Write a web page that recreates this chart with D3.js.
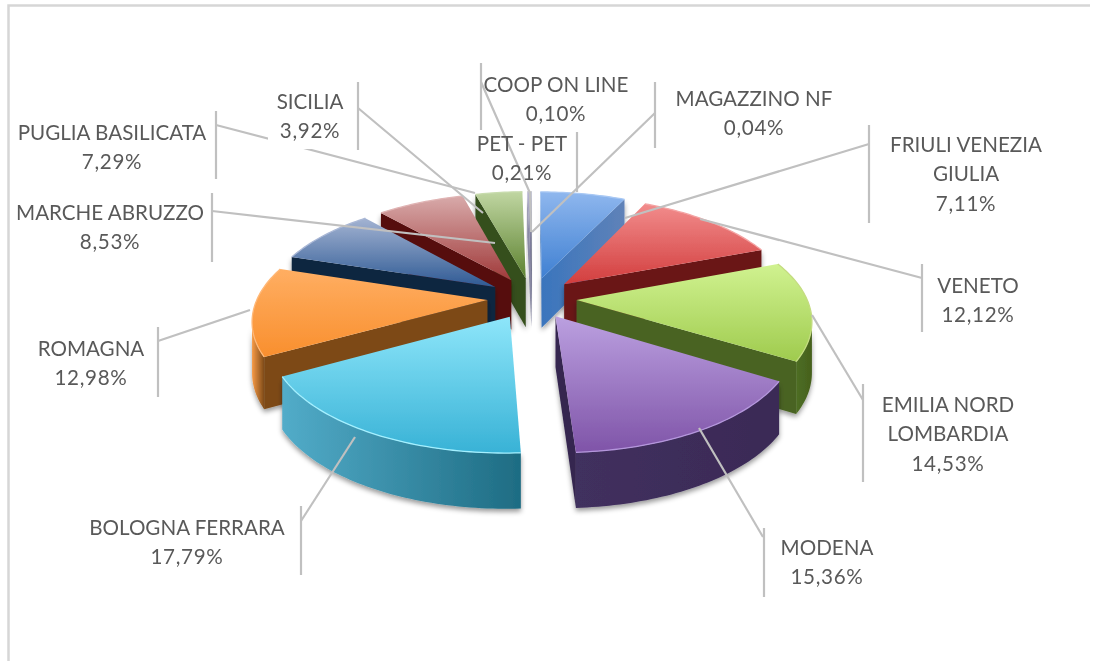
<!DOCTYPE html>
<html><head><meta charset="utf-8">
<script src="https://cdn.jsdelivr.net/npm/d3@7/dist/d3.min.js"></script>
<style>html,body{margin:0;padding:0;background:#fff}svg{display:block}</style>
</head><body><svg id="c" width="1097" height="661"></svg>
<script>
// ---- data ----
const names = ["FRIULI VENEZIA GIULIA","VENETO","EMILIA NORD LOMBARDIA","MODENA","BOLOGNA FERRARA","ROMAGNA","MARCHE ABRUZZO","PUGLIA BASILICATA","SICILIA","PET - PET","COOP ON LINE","MAGAZZINO NF"];
const values = [7.11,12.12,14.53,15.36,17.79,12.98,8.53,7.29,3.92,0.21,0.10,0.04];
const labelLines = [["FRIULI VENEZIA","GIULIA"],["VENETO"],["EMILIA NORD","LOMBARDIA"],["MODENA"],["BOLOGNA FERRARA"],["ROMAGNA"],["MARCHE ABRUZZO"],["PUGLIA BASILICATA"],["SICILIA"],["PET - PET"],["COOP ON LINE"],["MAGAZZINO NF"]];
// ---- styles and layout ----
const topLight = ["#8fb7ee","#f28c8c","#d0f290","#bba0e0","#8ee6fa","#ffae62","#a3b3d2","#d8aaaa","#c0d6a2","#b8b6d0","#a8a8c0","#a0a8c0"];
const topDark  = ["#3f80d2","#d23e3e","#9fcb4e","#7f54a8","#38b2d6","#f98f2e","#2f5a94","#a03a3a","#5d8230","#5a5a80","#505070","#4a5a80"];
const rimLeft  = ["#5b80b8","#7a1a1e","#4e6e22","#41305e","#52acc9","#f79a45","#102642","#4d1a1a","#3c5222","#6a6a8a","#606080","#606a8a"];
const rimRight = ["#5b80b8","#6b1418","#45601e","#3a2a56","#1e6c83","#7d4a18","#0f2440","#4a1414","#3a5020","#6a6a8a","#606080","#606a8a"];
const wall     = ["#3a75bd","#6b1518","#4a6423","#35264f","#2a7f98","#7d4a18","#0f2540","#561010","#36501e","#8a8aa4","#6a6a8a","#7c8aa4"];
const wallFar  = ["#5f82b8","#6b1518","#4a6423","#35264f","#2a7f98","#7d4a18","#0f2540","#561010","#36501e","#8a8aa4","#6a6a8a","#7c8aa4"];
const rimGlow  = ["#a8c8f4","#f4a4a4","#c4dc80","#b496dc","#a4f0ff","#ffb878","#aab8d6","#e0b4b4","#c8dcae","#ccc","#ccc","#ccc"];
const labelPos = [[966,147],[978,288],[948,407],[827,550],[187,530],[91,351],[110,215],[112,135],[310,104],[522,146],[556,87],[754,101]];
const bars = [[869,125,223],[922,264,332],[863,384,482],[764,528,597],[301,506,575],[158,327,397],[212,193,262],[216,111,179],[358,82,150],[577,132,192],[481,63,130],[655,82,148]];
const leaders = [[[869,144],[625,218]],[[922,278],[700,219]],[[863,400],[812,315]],[[763,537],[699,428]],[[301,521],[355,437]],[[158,341],[250,310]],[[212,211],[495,243]],[[216,125],[475,193]],[[358,108],[483,213]],[[577,175],[577,175]],[[481,82],[530,193],[531,232]],[[655,113],[532,232]]];
const FONT = "Lato, 'Open Sans', sans-serif", FS = 20.6, LH = 29.3;

// ---- geometry: perspective ground plane projected through library scales ----
const cx = 532, cy = 298, R = 230, persp = 0.166, tilt = 106.8, explode = 0.194, thick = 50;
const sx = d3.scaleLinear().domain([-1,1]).range([cx-R,cx+R]);
const sy = d3.scaleLinear().domain([-1,1]).range([cy+tilt,cy-tilt]);
const pie = d3.pie().sort(null).value(d=>d)(values);
const line = d3.line();
function proj(x,z,down){
  const s = 1/(1+persp*z);
  return [sx(x*s), sy(z*s) + (down? thick*Math.sqrt(s):0)];
}
function pointOf(m,r,a,down){
  return proj(explode*Math.sin(m)+r*Math.sin(a), explode*Math.cos(m)+r*Math.cos(a), down);
}
const faces = q => d3.polygonArea(q) > 0; // back-face test for a side quad
const svg = d3.select("#c");
const defs = svg.append("defs");
const blur = defs.append("filter").attr("id","soft").attr("x","-5%").attr("y","-5%").attr("width","110%").attr("height","110%");
blur.append("feGaussianBlur").attr("stdDeviation",0.5);
const sh = defs.append("filter").attr("id","shadow").attr("x","-10%").attr("y","-10%").attr("width","120%").attr("height","125%");
sh.append("feDropShadow").attr("dx",0).attr("dy",3).attr("stdDeviation",2.5).attr("flood-color","#000").attr("flood-opacity",0.4);

function grad(id,horizontal,a,b){
  const g = defs.append("linearGradient").attr("id",id).attr("x1",0).attr("y1",0).attr("x2",horizontal?1:0).attr("y2",horizontal?0:1);
  g.append("stop").attr("offset","0%").attr("stop-color",a);
  g.append("stop").attr("offset","100%").attr("stop-color",b);
}
values.forEach((v,i)=>{
  grad("t"+i,false,topLight[i],topDark[i]);
  grad("r"+i,true,rimLeft[i],rimRight[i]);
  grad("w"+i,true,wall[i],wallFar[i]);
});

// frame
svg.append("path").attr("d",line([[8.5,661],[8.5,5.5],[1090,5.5]])).attr("fill","none").attr("stroke","#d6d6d6").attr("stroke-width",2.5);

// slices, back to front
const order = pie.map((p,i)=>({p,i,m:(p.startAngle+p.endAngle)/2})).sort((a,b)=>Math.cos(b.m)-Math.cos(a.m));
const gPie = svg.append("g").attr("filter","url(#soft)");
order.forEach(({p,i,m})=>{
  const n = Math.max(2,Math.ceil((p.endAngle-p.startAngle)/0.02));
  const angles = d3.range(n+1).map(k=>p.startAngle+(p.endAngle-p.startAngle)*k/n);
  const rimTop = angles.map(a=>pointOf(m,1,a,false));
  const rimBot = angles.map(a=>pointOf(m,1,a,true));
  const apexT = pointOf(m,0,0,false), apexB = pointOf(m,0,0,true);
  const g = gPie.append("g");
  const walls = g.append("g").attr("filter","url(#shadow)");
  // rim: keep only the outward-facing samples
  const vis = d3.range(n).filter(k=>faces([rimTop[k],rimTop[k+1],rimBot[k+1],rimBot[k]]));
  if(vis.length){
    const ks = vis.concat([vis[vis.length-1]+1]);
    walls.append("path").attr("fill",`url(#r${i})`)
      .attr("d",line(ks.map(k=>rimTop[k]).concat(ks.map(k=>rimBot[k]).reverse()))+"Z");
  }
  const qStart = [apexT,rimTop[0],rimBot[0],apexB];
  const qEnd = [rimTop[n],apexT,apexB,rimBot[n]];
  [qStart,qEnd].forEach(q=>{
    if(faces(q)) walls.append("path").attr("fill",`url(#w${i})`).attr("d",line(q)+"Z");
  });
  g.append("path").attr("fill",`url(#t${i})`).attr("d",line([apexT].concat(rimTop))+"Z");
  g.append("path").attr("fill","none").attr("stroke",rimGlow[i]).attr("stroke-width",1.3).attr("d",line(rimTop));
});

// leader lines
const gL = svg.append("g").attr("fill","none").attr("stroke","#c0c0c0").attr("stroke-width",2.2);
leaders.forEach(l=>gL.append("path").attr("d",line(l)));
bars.forEach(b=>gL.append("path").attr("d",line([[b[0],b[1]],[b[0],b[2]]])));

// SICILIA label has an opaque backing that interrupts the neighbouring leader
const si = names.indexOf("SICILIA");
svg.append("rect").attr("x",labelPos[si][0]-42).attr("y",labelPos[si][1]-18).attr("width",84).attr("height",63).attr("fill","#fff");

// labels
const gT = svg.append("g").attr("font-family",FONT).attr("font-size",FS).attr("fill","#595959").attr("text-anchor","middle");
names.forEach((nm,i)=>{
  const lines = labelLines[i].concat([d3.format(".2f")(values[i]).replace(".",",")+"%"]);
  const t = gT.append("text").attr("dominant-baseline","middle");
  lines.forEach((s,k)=>t.append("tspan").attr("x",labelPos[i][0]).attr("y",labelPos[i][1]+k*LH)
    .attr("letter-spacing",k===lines.length-1?0.7:0).text(s));
});
</script></body></html>
